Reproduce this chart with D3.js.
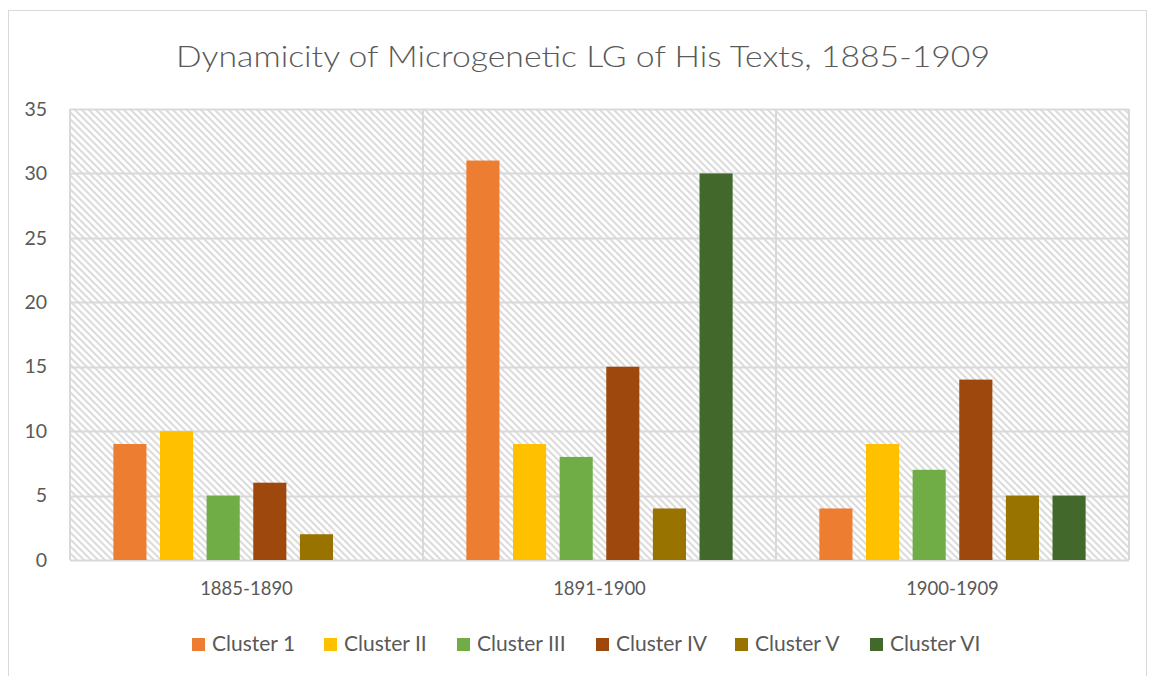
<!DOCTYPE html>
<html>
<head>
<meta charset="utf-8">
<script src="https://cdn.jsdelivr.net/npm/d3@7"></script>
<style>
  body { margin: 0; background: #fff; }
  svg text { font-family: Lato, "Open Sans", sans-serif; fill: #595959; }
</style>
</head>
<body>
<div id="chart"></div>
<script>
const periods = ['1885-1890', '1891-1900', '1900-1909']
const clusters = ['Cluster 1', 'Cluster II', 'Cluster III', 'Cluster IV', 'Cluster V', 'Cluster VI']
const colors = ['#ED7D31', '#FFC000', '#70AD47', '#9E480E', '#997300', '#43682B']
// values per cluster, in period order (null = no bar)
const values = [
  [9, 31, 4],
  [10, 9, 9],
  [5, 8, 7],
  [6, 15, 14],
  [2, 4, 5],
  [null, 30, 5],
]
const yTicks = [0, 5, 10, 15, 20, 25, 30, 35]

const W = 1155, H = 676
const plot = { left: 70, right: 1129, top: 109, bottom: 560 }

const svg = d3.select('#chart').append('svg')
  .attr('width', W).attr('height', H)

// chart frame
svg.append('rect')
  .attr('x', 8.5).attr('y', 10.5).attr('width', 1138).attr('height', 680)
  .attr('fill', '#fff').attr('stroke', '#d9d9d9')

// hatch fill for plot area
const defs = svg.append('defs')
const pat = defs.append('pattern')
  .attr('id', 'hatch').attr('patternUnits', 'userSpaceOnUse')
  .attr('width', 7).attr('height', 7)
pat.append('rect').attr('width', 7).attr('height', 7).attr('fill', '#fff')
pat.append('path')
  .attr('d', 'M-1,-1 L8,8 M-1,6 L1,8 M6,-1 L8,1')
  .attr('stroke', '#dcdcdc').attr('stroke-width', 2)

const x0 = d3.scaleBand().domain(periods).range([plot.left, plot.right])
const x1 = d3.scaleBand().domain(clusters).range([0, x0.bandwidth()])
  .paddingInner(0.29).paddingOuter(0.93)
const y = d3.scaleLinear().domain([0, 35]).range([plot.bottom, plot.top])

svg.append('rect')
  .attr('x', plot.left).attr('y', plot.top)
  .attr('width', plot.right - plot.left).attr('height', plot.bottom - plot.top)
  .attr('fill', 'url(#hatch)')

// horizontal gridlines
svg.append('g')
  .selectAll('line').data(yTicks).join('line')
  .attr('x1', plot.left).attr('x2', plot.right)
  .attr('y1', d => Math.round(y(d)) + 0.5).attr('y2', d => Math.round(y(d)) + 0.5)
  .attr('stroke', '#d9d9d9').attr('stroke-width', 2)

// vertical category separators
svg.append('g')
  .selectAll('line').data([...periods.map(p => x0(p)), plot.right]).join('line')
  .attr('x1', d => Math.round(d)).attr('x2', d => Math.round(d))
  .attr('y1', plot.top).attr('y2', plot.bottom)
  .attr('stroke', '#d9d9d9').attr('stroke-width', 2)

// bars
const bars = []
clusters.forEach((c, i) => {
  periods.forEach((p, j) => {
    if (values[i][j] != null) bars.push({ c, p, v: values[i][j], color: colors[i] })
  })
})
svg.append('g')
  .selectAll('rect').data(bars).join('rect')
  .attr('x', d => x0(d.p) + x1(d.c))
  .attr('width', x1.bandwidth())
  .attr('y', d => y(d.v))
  .attr('height', d => y(0) - y(d.v))
  .attr('fill', d => d.color)

// y axis labels
const yAxis = svg.append('g')
  .attr('transform', `translate(47,0)`)
  .call(d3.axisLeft(y).tickValues(yTicks).tickSize(0).tickPadding(0))
yAxis.select('.domain').remove()
yAxis.selectAll('text')
  .attr('font-size', 19.5).attr('fill', '#595959')
  .style('font-family', 'Lato, "Open Sans", sans-serif')

// x axis labels
const xAxis = svg.append('g')
  .attr('transform', `translate(0,${plot.bottom})`)
  .call(d3.axisBottom(x0).tickSize(0).tickPadding(22))
xAxis.select('.domain').remove()
xAxis.selectAll('text')
  .attr('font-size', 18.5).attr('fill', '#595959')
  .style('font-family', 'Lato, "Open Sans", sans-serif')

// title
svg.append('text')
  .attr('x', 583).attr('y', 67)
  .attr('text-anchor', 'middle')
  .attr('font-size', 29).attr('font-weight', 300)
  .attr('textLength', 814).attr('lengthAdjust', 'spacingAndGlyphs')
  .text('Dynamicity of Microgenetic LG of His Texts, 1885-1909')

// legend
const legendX = [192, 324, 457, 596, 735, 870]
const legend = svg.append('g')
  .selectAll('g').data(clusters).join('g')
  .attr('transform', (d, i) => `translate(${legendX[i]},638)`)
legend.append('rect')
  .attr('width', 13).attr('height', 13)
  .attr('fill', (d, i) => colors[i])
legend.append('text')
  .attr('x', 20).attr('y', 13)
  .attr('font-size', 21)
  .text(d => d)
</script>
</body>
</html>
